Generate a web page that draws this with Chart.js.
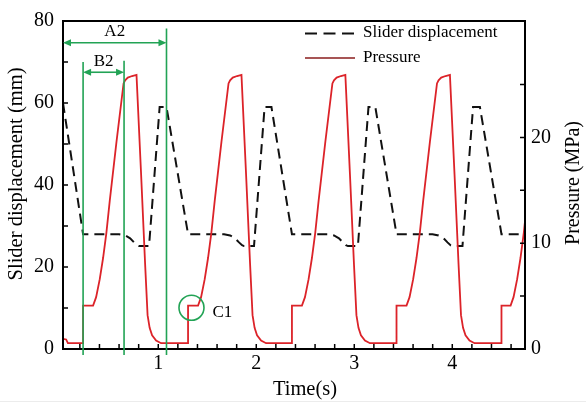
<!DOCTYPE html>
<html>
<head>
<meta charset="utf-8">
<script src="https://cdn.jsdelivr.net/npm/chart.js@4.4.1/dist/chart.umd.min.js"></script>
<style>
  html, body { margin: 0; padding: 0; background: #fff; }
</style>
</head>
<body>
<canvas id="chart" width="586" height="407"></canvas>
<script>
// data
// pressure (MPa, right axis) vs time (s)
const pressureTime = [
  0.028, 0.060, 0.078, 0.233,
  0.233, 0.335, 0.366, 0.403, 0.437, 0.471, 0.505, 0.574, 0.646, 0.662, 0.689, 0.733, 0.778, 0.825, 0.866, 0.891, 0.912, 0.937, 0.978, 1.029, 1.304,
  1.304, 1.406, 1.437, 1.474, 1.508, 1.542, 1.576, 1.645, 1.717, 1.733, 1.760, 1.804, 1.849, 1.896, 1.937, 1.962, 1.983, 2.008, 2.049, 2.100, 2.364,
  2.364, 2.466, 2.497, 2.534, 2.568, 2.602, 2.636, 2.705, 2.777, 2.793, 2.820, 2.864, 2.909, 2.956, 2.997, 3.022, 3.043, 3.068, 3.109, 3.160, 3.431,
  3.431, 3.533, 3.564, 3.601, 3.635, 3.669, 3.703, 3.772, 3.844, 3.860, 3.887, 3.931, 3.976, 4.023, 4.064, 4.089, 4.110, 4.135, 4.176, 4.227, 4.502,
  4.502, 4.595, 4.625, 4.662, 4.696, 4.730, 4.764
];
const pressure = [
  0.95, 0.9, 0.55, 0.55,
  4.1, 4.1, 4.9, 6.6, 8.6, 11.0, 14.0, 19.6, 25.1, 25.4, 25.65, 25.8, 25.9, 16.5, 8.0, 3.2, 2.0, 1.3, 0.8, 0.55, 0.55,
  4.1, 4.1, 4.9, 6.6, 8.6, 11.0, 14.0, 19.6, 25.1, 25.4, 25.65, 25.8, 25.9, 16.5, 8.0, 3.2, 2.0, 1.3, 0.8, 0.55, 0.55,
  4.1, 4.1, 4.9, 6.6, 8.6, 11.0, 14.0, 19.6, 25.1, 25.4, 25.65, 25.8, 25.9, 16.5, 8.0, 3.2, 2.0, 1.3, 0.8, 0.55, 0.55,
  4.1, 4.1, 4.9, 6.6, 8.6, 11.0, 14.0, 19.6, 25.1, 25.4, 25.65, 25.8, 25.9, 16.5, 8.0, 3.2, 2.0, 1.3, 0.8, 0.55, 0.55,
  4.1, 4.1, 4.9, 6.6, 8.6, 11.0, 14.0
];

// slider displacement (mm, left axis) vs time (s)
const sliderTime = [
  0.028,
  0.233, 0.600, 0.662, 0.713, 0.753, 0.784, 0.804, 0.906, 1.014, 1.084,
  1.304, 1.671, 1.733, 1.784, 1.824, 1.855, 1.875, 1.977, 2.085, 2.155,
  2.364, 2.731, 2.793, 2.844, 2.884, 2.915, 2.935, 3.037, 3.145, 3.215,
  3.431, 3.798, 3.860, 3.911, 3.951, 3.982, 4.002, 4.104, 4.212, 4.282,
  4.502, 4.742
];
const slider = [
  60.0,
  28.0, 28.0, 27.7, 27.0, 26.0, 25.3, 25.1, 25.1, 59.0, 59.0,
  28.0, 28.0, 27.7, 27.0, 26.0, 25.3, 25.1, 25.1, 59.0, 59.0,
  28.0, 28.0, 27.7, 27.0, 26.0, 25.3, 25.1, 25.1, 59.0, 59.0,
  28.0, 28.0, 27.7, 27.0, 26.0, 25.3, 25.1, 25.1, 59.0, 59.0,
  28.0, 28.0
];

// axis ranges
const timeRange = [0.028, 4.742];
const sliderRange = [0, 80];
const pressureRange = [0, 31];
const pressureLabelMax = 20;

// green markers: vertical lines (time, top in mm), spans A2/B2 (mm), C1 circle (time, MPa)
const markerTimes = [0.233, 0.651, 1.084];
const markerTops = [70.0, 70.3, 78.2];
const spanA2 = [0.028, 1.084, 74.7];
const spanB2 = [0.233, 0.651, 67.5];
const circleC1 = [1.339, 3.9];

const serif = '"Liberation Serif", "Times New Roman", serif';
const green = '#22a355';

const overlay = {
  id: 'overlay',
  beforeDraw(chart) {
    const c = chart.ctx;
    c.save();
    c.fillStyle = '#fff';
    c.fillRect(0, 0, chart.width, chart.height);
    c.fillStyle = '#ececec';
    c.fillRect(0, 401, chart.width, 1);
    c.restore();
  },
  afterDatasetsDraw(chart) {
    const c = chart.ctx;
    const area = chart.chartArea;
    const sx = chart.scales.x, sy = chart.scales.y, sy2 = chart.scales.y2;
    c.save();

    // inward ticks
    c.strokeStyle = '#000';
    c.lineWidth = 1.5;
    c.beginPath();
    sx.ticks.forEach(t => {
      const px = sx.getPixelForValue(t.value);
      if (px <= area.left + 1 || px >= area.right - 1) return;
      c.moveTo(px, area.bottom); c.lineTo(px, area.bottom - 5);
    });
    sy.ticks.forEach(t => {
      const py = sy.getPixelForValue(t.value);
      if (py <= area.top + 1 || py >= area.bottom - 1) return;
      c.moveTo(area.left, py); c.lineTo(area.left + 5, py);
    });
    sy2.ticks.forEach(t => {
      if (t.value > pressureLabelMax + 5) return;
      const py = sy2.getPixelForValue(t.value);
      if (py <= area.top + 1 || py >= area.bottom - 1) return;
      c.moveTo(area.right, py); c.lineTo(area.right - 5, py);
    });
    c.stroke();

    // frame
    c.lineWidth = 2;
    c.strokeRect(area.left, area.top, area.right - area.left, area.bottom - area.top);

    // green markers
    c.strokeStyle = green;
    c.fillStyle = green;
    c.lineWidth = 1.6;
    c.beginPath();
    markerTimes.forEach((t, i) => {
      const px = sx.getPixelForValue(t);
      c.moveTo(px, sy.getPixelForValue(markerTops[i]));
      c.lineTo(px, area.bottom + 6);
    });
    c.stroke();

    const arrow = (span, label) => {
      const x1 = sx.getPixelForValue(span[0]);
      const x2 = sx.getPixelForValue(span[1]);
      const y = sy.getPixelForValue(span[2]);
      c.beginPath();
      c.moveTo(x1 + 6, y); c.lineTo(x2 - 6, y);
      c.stroke();
      c.beginPath();
      c.moveTo(x1, y); c.lineTo(x1 + 8, y - 3.5); c.lineTo(x1 + 8, y + 3.5); c.closePath();
      c.moveTo(x2, y); c.lineTo(x2 - 8, y - 3.5); c.lineTo(x2 - 8, y + 3.5); c.closePath();
      c.fill();
      c.save();
      c.fillStyle = '#000';
      c.font = '17px ' + serif;
      c.textAlign = 'center';
      c.textBaseline = 'middle';
      c.fillText(label, (x1 + x2) / 2, y - 11);
      c.restore();
    };
    arrow(spanA2, 'A2');
    arrow(spanB2, 'B2');

    const cx = sx.getPixelForValue(circleC1[0]);
    const cy = sy2.getPixelForValue(circleC1[1]);
    c.beginPath();
    c.arc(cx, cy, 12.5, 0, Math.PI * 2);
    c.stroke();
    c.fillStyle = '#000';
    c.font = '17px ' + serif;
    c.textAlign = 'left';
    c.textBaseline = 'middle';
    c.fillText('C1', cx + 21, cy + 5);

    // legend
    c.strokeStyle = '#111';
    c.lineWidth = 2.2;
    c.setLineDash([12, 6.5]);
    c.beginPath(); c.moveTo(305, 33.5); c.lineTo(355, 33.5); c.stroke();
    c.setLineDash([]);
    c.strokeStyle = '#8a1c1c';
    c.lineWidth = 1.5;
    c.beginPath(); c.moveTo(305, 58); c.lineTo(355, 58); c.stroke();
    c.fillStyle = '#000';
    c.font = '17px ' + serif;
    c.fillText('Slider displacement', 363, 33);
    c.fillText('Pressure', 363, 57.5);

    // axis titles
    c.font = '20.5px ' + serif;
    c.textAlign = 'center';
    c.fillText('Time(s)', 305, 390);
    c.save();
    c.translate(17, 174);
    c.rotate(-Math.PI / 2);
    c.fillText('Slider displacement (mm)', 0, 0);
    c.restore();
    c.save();
    c.translate(574, 183);
    c.rotate(-Math.PI / 2);
    c.font = '20px ' + serif;
    c.fillText('Pressure (MPa)', 0, 0);
    c.restore();

    c.restore();
  }
};

const tickFont = { family: serif, size: 20 };
const isWhole = v => Math.abs(v - Math.round(v)) < 1e-6;

new Chart(document.getElementById('chart').getContext('2d'), {
  type: 'line',
  data: {
    datasets: [
      {
        label: 'Pressure',
        data: pressureTime.map((t, i) => ({ x: t, y: pressure[i] })),
        yAxisID: 'y2',
        borderColor: '#dc2329',
        borderWidth: 1.8,
        pointRadius: 0,
        tension: 0
      },
      {
        label: 'Slider displacement',
        data: sliderTime.map((t, i) => ({ x: t, y: slider[i] })),
        yAxisID: 'y',
        borderColor: '#111',
        borderWidth: 2,
        borderDash: [10, 6],
        pointRadius: 0,
        tension: 0
      }
    ]
  },
  options: {
    responsive: false,
    animation: false,
    layout: { padding: { top: 15, left: 0, right: 0, bottom: 0 } },
    plugins: { legend: { display: false }, tooltip: { enabled: false } },
    scales: {
      x: {
        type: 'linear',
        position: 'bottom',
        min: timeRange[0],
        max: timeRange[1],
        grid: { display: false, drawTicks: false },
        border: { display: false },
        ticks: {
          stepSize: 0.2,
          includeBounds: false,
          autoSkip: false,
          maxRotation: 0,
          padding: 3,
          color: '#000',
          font: tickFont,
          callback: v => isWhole(v) && v > 0.5 ? String(Math.round(v)) : ''
        },
        afterFit: s => { s.height = 58; }
      },
      y: {
        position: 'left',
        min: sliderRange[0],
        max: sliderRange[1],
        grid: { display: false, drawTicks: false },
        border: { display: false },
        ticks: {
          stepSize: 10,
          includeBounds: false,
          autoSkip: false,
          padding: 9,
          color: '#000',
          font: tickFont,
          callback: v => v % 20 === 0 ? String(v) : ''
        },
        afterFit: s => { s.width = 63; }
      },
      y2: {
        position: 'right',
        min: pressureRange[0],
        max: pressureRange[1],
        grid: { display: false, drawTicks: false },
        border: { display: false },
        ticks: {
          stepSize: 5,
          includeBounds: false,
          autoSkip: false,
          padding: 6,
          color: '#000',
          font: tickFont,
          callback: v => v % 10 === 0 && v <= pressureLabelMax ? String(v) : ''
        },
        afterFit: s => { s.width = 61; }
      }
    }
  },
  plugins: [overlay]
});
</script>
</body>
</html>
